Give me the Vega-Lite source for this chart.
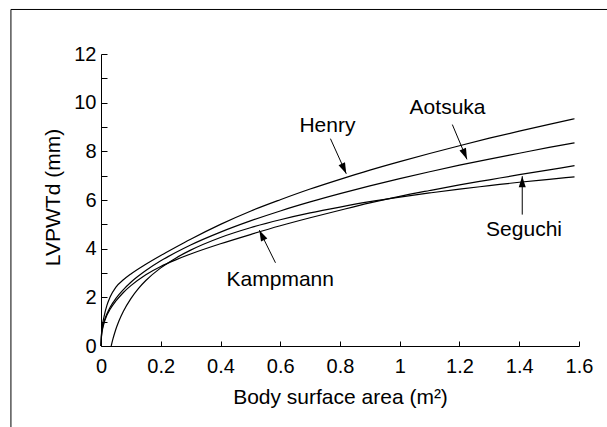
{
  "$schema": "https://vega.github.io/schema/vega-lite/v6.json",
  "autosize": {"type": "none"},
  "padding": {"left": 101, "top": 54, "right": 28, "bottom": 81},
  "width": 478,
  "height": 292,
  "background": "white",
  "config": {
    "view": {"stroke": null},
    "font": "Liberation Sans",
    "axis": {
      "grid": false,
      "domainColor": "black",
      "tickColor": "black",
      "labelColor": "black",
      "titleColor": "black",
      "labelFont": "Liberation Sans",
      "titleFont": "Liberation Sans",
      "titleFontWeight": "normal",
      "labelFontSize": 20,
      "titleFontSize": 21,
      "domainWidth": 1,
      "tickWidth": 1
    }
  },
  "datasets": {
    "curves": [
      {"study": "Henry", "bsa": 0, "lvpwtd": 0},
      {"study": "Henry", "bsa": 0.002, "lvpwtd": 0.55},
      {"study": "Henry", "bsa": 0.005, "lvpwtd": 0.87},
      {"study": "Henry", "bsa": 0.01, "lvpwtd": 1.2},
      {"study": "Henry", "bsa": 0.02, "lvpwtd": 1.68},
      {"study": "Henry", "bsa": 0.03, "lvpwtd": 2.0},
      {"study": "Henry", "bsa": 0.05, "lvpwtd": 2.42},
      {"study": "Henry", "bsa": 0.075, "lvpwtd": 2.72},
      {"study": "Henry", "bsa": 0.1, "lvpwtd": 2.96},
      {"study": "Henry", "bsa": 0.15, "lvpwtd": 3.36},
      {"study": "Henry", "bsa": 0.2, "lvpwtd": 3.72},
      {"study": "Henry", "bsa": 0.25, "lvpwtd": 4.06},
      {"study": "Henry", "bsa": 0.3, "lvpwtd": 4.39},
      {"study": "Henry", "bsa": 0.4, "lvpwtd": 5.0},
      {"study": "Henry", "bsa": 0.5, "lvpwtd": 5.54},
      {"study": "Henry", "bsa": 0.6, "lvpwtd": 6.01},
      {"study": "Henry", "bsa": 0.7, "lvpwtd": 6.45},
      {"study": "Henry", "bsa": 0.8, "lvpwtd": 6.85},
      {"study": "Henry", "bsa": 0.9, "lvpwtd": 7.23},
      {"study": "Henry", "bsa": 1.0, "lvpwtd": 7.58},
      {"study": "Henry", "bsa": 1.1, "lvpwtd": 7.91},
      {"study": "Henry", "bsa": 1.2, "lvpwtd": 8.23},
      {"study": "Henry", "bsa": 1.3, "lvpwtd": 8.54},
      {"study": "Henry", "bsa": 1.4, "lvpwtd": 8.83},
      {"study": "Henry", "bsa": 1.5, "lvpwtd": 9.11},
      {"study": "Henry", "bsa": 1.585, "lvpwtd": 9.34},
      {"study": "Aotsuka", "bsa": 0, "lvpwtd": 0},
      {"study": "Aotsuka", "bsa": 0.002, "lvpwtd": 0.51},
      {"study": "Aotsuka", "bsa": 0.005, "lvpwtd": 0.74},
      {"study": "Aotsuka", "bsa": 0.01, "lvpwtd": 0.99},
      {"study": "Aotsuka", "bsa": 0.02, "lvpwtd": 1.33},
      {"study": "Aotsuka", "bsa": 0.03, "lvpwtd": 1.58},
      {"study": "Aotsuka", "bsa": 0.05, "lvpwtd": 1.96},
      {"study": "Aotsuka", "bsa": 0.075, "lvpwtd": 2.32},
      {"study": "Aotsuka", "bsa": 0.1, "lvpwtd": 2.62},
      {"study": "Aotsuka", "bsa": 0.15, "lvpwtd": 3.1},
      {"study": "Aotsuka", "bsa": 0.2, "lvpwtd": 3.5},
      {"study": "Aotsuka", "bsa": 0.25, "lvpwtd": 3.84},
      {"study": "Aotsuka", "bsa": 0.3, "lvpwtd": 4.15},
      {"study": "Aotsuka", "bsa": 0.4, "lvpwtd": 4.68},
      {"study": "Aotsuka", "bsa": 0.5, "lvpwtd": 5.14},
      {"study": "Aotsuka", "bsa": 0.6, "lvpwtd": 5.55},
      {"study": "Aotsuka", "bsa": 0.7, "lvpwtd": 5.92},
      {"study": "Aotsuka", "bsa": 0.8, "lvpwtd": 6.26},
      {"study": "Aotsuka", "bsa": 0.9, "lvpwtd": 6.58},
      {"study": "Aotsuka", "bsa": 1.0, "lvpwtd": 6.88},
      {"study": "Aotsuka", "bsa": 1.1, "lvpwtd": 7.16},
      {"study": "Aotsuka", "bsa": 1.2, "lvpwtd": 7.43},
      {"study": "Aotsuka", "bsa": 1.3, "lvpwtd": 7.68},
      {"study": "Aotsuka", "bsa": 1.4, "lvpwtd": 7.92},
      {"study": "Aotsuka", "bsa": 1.5, "lvpwtd": 8.16},
      {"study": "Aotsuka", "bsa": 1.585, "lvpwtd": 8.35},
      {"study": "Seguchi", "bsa": 0, "lvpwtd": 0},
      {"study": "Seguchi", "bsa": 0.002, "lvpwtd": 0.45},
      {"study": "Seguchi", "bsa": 0.005, "lvpwtd": 0.68},
      {"study": "Seguchi", "bsa": 0.01, "lvpwtd": 0.93},
      {"study": "Seguchi", "bsa": 0.02, "lvpwtd": 1.27},
      {"study": "Seguchi", "bsa": 0.03, "lvpwtd": 1.5},
      {"study": "Seguchi", "bsa": 0.05, "lvpwtd": 1.85},
      {"study": "Seguchi", "bsa": 0.075, "lvpwtd": 2.2},
      {"study": "Seguchi", "bsa": 0.1, "lvpwtd": 2.48},
      {"study": "Seguchi", "bsa": 0.15, "lvpwtd": 2.93},
      {"study": "Seguchi", "bsa": 0.2, "lvpwtd": 3.27},
      {"study": "Seguchi", "bsa": 0.25, "lvpwtd": 3.54},
      {"study": "Seguchi", "bsa": 0.3, "lvpwtd": 3.78},
      {"study": "Seguchi", "bsa": 0.4, "lvpwtd": 4.2},
      {"study": "Seguchi", "bsa": 0.5, "lvpwtd": 4.58},
      {"study": "Seguchi", "bsa": 0.6, "lvpwtd": 4.94},
      {"study": "Seguchi", "bsa": 0.7, "lvpwtd": 5.27},
      {"study": "Seguchi", "bsa": 0.8, "lvpwtd": 5.58},
      {"study": "Seguchi", "bsa": 0.9, "lvpwtd": 5.88},
      {"study": "Seguchi", "bsa": 1.0, "lvpwtd": 6.15},
      {"study": "Seguchi", "bsa": 1.1, "lvpwtd": 6.39},
      {"study": "Seguchi", "bsa": 1.2, "lvpwtd": 6.62},
      {"study": "Seguchi", "bsa": 1.3, "lvpwtd": 6.83},
      {"study": "Seguchi", "bsa": 1.4, "lvpwtd": 7.04},
      {"study": "Seguchi", "bsa": 1.5, "lvpwtd": 7.24},
      {"study": "Seguchi", "bsa": 1.585, "lvpwtd": 7.41},
      {"study": "Kampmann", "bsa": 0.034, "lvpwtd": 0},
      {"study": "Kampmann", "bsa": 0.036, "lvpwtd": 0.1},
      {"study": "Kampmann", "bsa": 0.04, "lvpwtd": 0.29},
      {"study": "Kampmann", "bsa": 0.05, "lvpwtd": 0.7},
      {"study": "Kampmann", "bsa": 0.06, "lvpwtd": 1.03},
      {"study": "Kampmann", "bsa": 0.075, "lvpwtd": 1.43},
      {"study": "Kampmann", "bsa": 0.1, "lvpwtd": 1.95},
      {"study": "Kampmann", "bsa": 0.125, "lvpwtd": 2.36},
      {"study": "Kampmann", "bsa": 0.15, "lvpwtd": 2.69},
      {"study": "Kampmann", "bsa": 0.2, "lvpwtd": 3.21},
      {"study": "Kampmann", "bsa": 0.25, "lvpwtd": 3.61},
      {"study": "Kampmann", "bsa": 0.3, "lvpwtd": 3.94},
      {"study": "Kampmann", "bsa": 0.4, "lvpwtd": 4.46},
      {"study": "Kampmann", "bsa": 0.5, "lvpwtd": 4.86},
      {"study": "Kampmann", "bsa": 0.6, "lvpwtd": 5.19},
      {"study": "Kampmann", "bsa": 0.7, "lvpwtd": 5.47},
      {"study": "Kampmann", "bsa": 0.8, "lvpwtd": 5.71},
      {"study": "Kampmann", "bsa": 0.9, "lvpwtd": 5.93},
      {"study": "Kampmann", "bsa": 1.0, "lvpwtd": 6.12},
      {"study": "Kampmann", "bsa": 1.1, "lvpwtd": 6.29},
      {"study": "Kampmann", "bsa": 1.2, "lvpwtd": 6.45},
      {"study": "Kampmann", "bsa": 1.3, "lvpwtd": 6.59},
      {"study": "Kampmann", "bsa": 1.4, "lvpwtd": 6.73},
      {"study": "Kampmann", "bsa": 1.5, "lvpwtd": 6.85},
      {"study": "Kampmann", "bsa": 1.585, "lvpwtd": 6.95}
    ],
    "labels": [
      {"study": "Henry", "bsa": 0.758, "lvpwtd": 9.04},
      {"study": "Aotsuka", "bsa": 1.16, "lvpwtd": 9.8},
      {"study": "Seguchi", "bsa": 1.416, "lvpwtd": 4.77},
      {"study": "Kampmann", "bsa": 0.6, "lvpwtd": 2.71}
    ],
    "arrows": [
      {"study": "Henry", "bsa": 0.768, "lvpwtd": 8.52, "tip_bsa": 0.821, "tip_lvpwtd": 7.08, "dir": 155.8},
      {"study": "Aotsuka", "bsa": 1.176, "lvpwtd": 9.1, "tip_bsa": 1.225, "tip_lvpwtd": 7.67, "dir": 157.4},
      {"study": "Seguchi", "bsa": 1.41, "lvpwtd": 5.4, "tip_bsa": 1.41, "tip_lvpwtd": 6.98, "dir": 0},
      {"study": "Kampmann", "bsa": 0.584, "lvpwtd": 3.42, "tip_bsa": 0.53, "tip_lvpwtd": 4.76, "dir": 333.9}
    ],
    "frame": [
      {"side": "left", "bsa": -0.3015, "lvpwtd": 13.83, "bsa2": -0.3015, "lvpwtd2": -5},
      {"side": "top", "bsa": -0.3015, "lvpwtd": 13.83, "bsa2": 1.9, "lvpwtd2": 13.83}
    ]
  },
  "resolve": {"axis": {"y": "independent", "x": "independent"}},
  "layer": [
    {
      "data": {"name": "curves"},
      "mark": {"type": "line", "color": "black", "strokeWidth": 1.2, "interpolate": "monotone"},
      "encoding": {
        "x": {
          "field": "bsa", "type": "quantitative",
          "scale": {"domain": [0, 1.6], "nice": false, "zero": false},
          "axis": {
            "values": [0, 0.2, 0.4, 0.6, 0.8, 1, 1.2, 1.4, 1.6],
            "format": "~g",
            "tickSize": -5,
            "labelPadding": 15,
            "labelFlush": false,
            "labelOverlap": false,
            "title": "Body surface area (m²)",
            "titleY": 57,
            "titleBaseline": "alphabetic"
          }
        },
        "y": {
          "field": "lvpwtd", "type": "quantitative",
          "scale": {"domain": [0, 12], "nice": false, "zero": false},
          "axis": {
            "values": [0, 2, 4, 6, 8, 10, 12],
            "orient": "left",
            "tickSize": -6,
            "labelPadding": 11,
            "labelFlush": false,
            "labelOverlap": false,
            "title": "LVPWTd (mm)",
            "titleX": -48,
            "titleY": 143,
            "titleAngle": -90,
            "titleAlign": "center",
            "titleBaseline": "middle"
          }
        },
        "detail": {"field": "study"}
      }
    },
    {
      "data": {"name": "frame"},
      "mark": {"type": "rule", "color": "black", "strokeWidth": 1, "clip": false},
      "encoding": {
        "x": {"field": "bsa", "type": "quantitative", "axis": null},
        "x2": {"field": "bsa2"},
        "y": {
          "field": "lvpwtd", "type": "quantitative",
          "axis": {
            "values": [1, 3, 5, 7, 9, 11],
            "orient": "left",
            "tickSize": -6,
            "labels": false,
            "domain": false,
            "title": null
          }
        },
        "y2": {"field": "lvpwtd2"}
      }
    },
    {
      "data": {"name": "arrows"},
      "mark": {"type": "rule", "color": "black", "strokeWidth": 1},
      "encoding": {
        "x": {"field": "bsa", "type": "quantitative", "axis": null},
        "x2": {"field": "tip_bsa"},
        "y": {"field": "lvpwtd", "type": "quantitative", "axis": null},
        "y2": {"field": "tip_lvpwtd"}
      }
    },
    {
      "data": {"name": "arrows"},
      "mark": {"type": "point", "shape": "M0,0L0.32,1L-0.32,1Z", "size": 484, "filled": true, "color": "black", "opacity": 1, "strokeWidth": 0},
      "encoding": {
        "x": {"field": "tip_bsa", "type": "quantitative", "axis": null},
        "y": {"field": "tip_lvpwtd", "type": "quantitative", "axis": null},
        "angle": {"field": "dir", "type": "quantitative", "scale": null}
      }
    },
    {
      "data": {"name": "labels"},
      "mark": {"type": "text", "font": "Liberation Sans", "fontSize": 21, "color": "black", "align": "center", "baseline": "middle"},
      "encoding": {
        "x": {"field": "bsa", "type": "quantitative", "axis": null},
        "y": {"field": "lvpwtd", "type": "quantitative", "axis": null},
        "text": {"field": "study"}
      }
    }
  ]
}
